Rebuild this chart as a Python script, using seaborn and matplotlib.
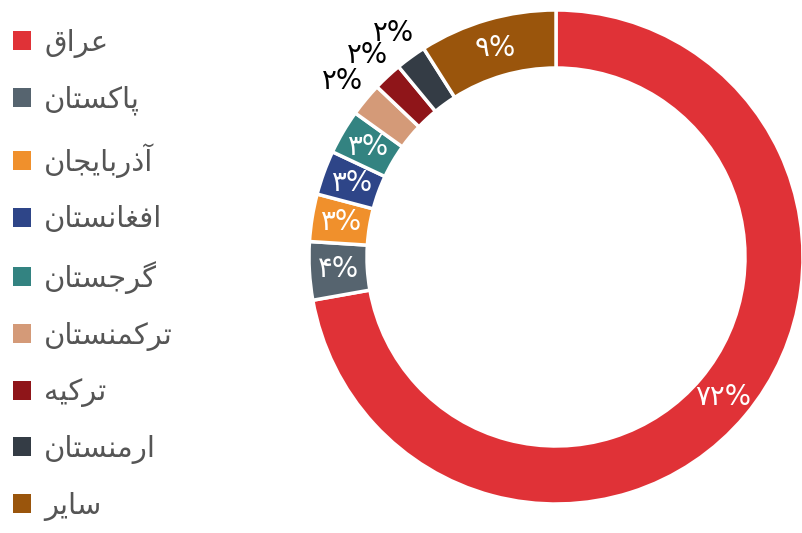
import matplotlib
matplotlib.use("Agg")
import matplotlib.pyplot as plt
import numpy as np
import seaborn as sns

# share of each origin country, clockwise from 12 o'clock
countries = ["عراق", "پاکستان", "آذربایجان", "افغانستان", "گرجستان", "ترکمنستان", "ترکیه", "ارمنستان", "سایر"]
shares = [72.2, 3.8, 3.1, 2.9, 2.9, 2.2, 1.9, 2.0, 9.0]
colors = ["#e03237", "#56646f", "#f0902c", "#2e4588", "#338381", "#d49a78", "#8f1519", "#343c45", "#9a550c"]

# presentation forms: (isolated, final, initial, medial); right-joining letters have two
FORMS = {
    "ا": ("\uFE8D", "\uFE8E"),
    "آ": ("\uFE81", "\uFE82"),
    "ذ": ("\uFEAB", "\uFEAC"),
    "ر": ("\uFEAD", "\uFEAE"),
    "ب": ("\uFE8F", "\uFE90", "\uFE91", "\uFE92"),
    "پ": ("\uFB56", "\uFB57", "\uFB58", "\uFB59"),
    "ت": ("\uFE95", "\uFE96", "\uFE97", "\uFE98"),
    "ج": ("\uFE9D", "\uFE9E", "\uFE9F", "\uFEA0"),
    "س": ("\uFEB1", "\uFEB2", "\uFEB3", "\uFEB4"),
    "ع": ("\uFEC9", "\uFECA", "\uFECB", "\uFECC"),
    "غ": ("\uFECD", "\uFECE", "\uFECF", "\uFED0"),
    "ف": ("\uFED1", "\uFED2", "\uFED3", "\uFED4"),
    "ق": ("\uFED5", "\uFED6", "\uFED7", "\uFED8"),
    "ک": ("\uFB8E", "\uFB8F", "\uFB90", "\uFB91"),
    "گ": ("\uFB92", "\uFB93", "\uFB94", "\uFB95"),
    "م": ("\uFEE1", "\uFEE2", "\uFEE3", "\uFEE4"),
    "ن": ("\uFEE5", "\uFEE6", "\uFEE7", "\uFEE8"),
    "ه": ("\uFEE9", "\uFEEA", "\uFEEB", "\uFEEC"),
    "ی": ("\uFBFC", "\uFBFD", "\uFBFE", "\uFBFF"),
}


def shape(word):
    """Join Persian letters and put them in visual (left-to-right) order."""
    out = []
    for i, ch in enumerate(word):
        forms = FORMS.get(ch)
        if forms is None:
            out.append(ch)
            continue
        prev_join = i > 0 and len(FORMS.get(word[i - 1], ())) == 4
        next_join = len(forms) == 4 and i + 1 < len(word) and word[i + 1] in FORMS
        if prev_join and next_join:
            out.append(forms[3])
        elif next_join:
            out.append(forms[2])
        elif prev_join:
            out.append(forms[1])
        else:
            out.append(forms[0])
    return "".join(reversed(out))


def fa_percent(value):
    digits = str(int(round(value))).translate(str.maketrans("0123456789", "۰۱۲۳۴۵۶۷۸۹"))
    return digits + "%"


sns.set_style("white")
plt.rcParams["font.family"] = ["DejaVu Sans"]

fig = plt.figure(figsize=(8.02, 5.33), dpi=100)
ax = fig.add_axes([309 / 802, 29 / 533, 494 / 802, 494 / 533])

ring = 58 / 247
wedges, _ = ax.pie(
    shares,
    colors=sns.color_palette(colors),
    startangle=90,
    counterclock=False,
    radius=1,
    wedgeprops=dict(width=ring, edgecolor="white", linewidth=2.5),
)

# small slices get their label outside the ring
for wedge, value in zip(wedges, shares):
    mid = np.deg2rad((wedge.theta1 + wedge.theta2) / 2)
    if value < 2.5:
        r, color = 1.12, "black"
    else:
        r, color = 1 - ring / 2, "white"
    ax.text(r * np.cos(mid), r * np.sin(mid), fa_percent(value),
            ha="center", va="center", fontsize=20, color=color)

ax.set_xlim(-1, 1)
ax.set_ylim(-1, 1)
ax.set_aspect("equal")
ax.axis("off")

leg = fig.legend(
    wedges,
    [shape(c) for c in countries],
    loc="upper left",
    bbox_to_anchor=(13 / 802, 1 - 29 / 533),
    frameon=False,
    fontsize=21,
    labelcolor="#555555",
    handlelength=0.62,
    handleheight=0.62,
    handletextpad=0.45,
    labelspacing=0.95,
    borderpad=0,
    borderaxespad=0,
)
for h in leg.legend_handles:
    h.set_edgecolor("none")

fig.savefig("out.png", dpi=100)
